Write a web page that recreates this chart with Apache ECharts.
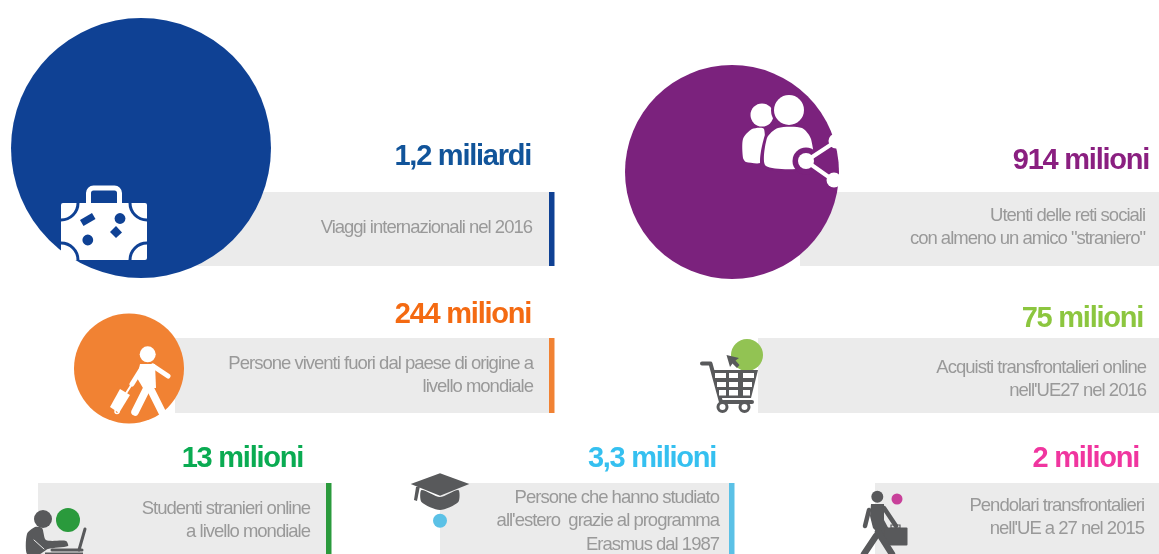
<!DOCTYPE html>
<html><head><meta charset="utf-8">
<style>html,body{margin:0;padding:0;background:#fff}#c{width:1159px;height:554px}</style>
<script src="https://cdn.jsdelivr.net/npm/echarts@6/dist/echarts.min.js"></script>
</head><body><div id="c"></div>
<script>
// --- content ---
const headlines = ['1,2 miliardi','914 milioni','244 milioni','75 milioni','13 milioni','3,3 milioni','2 milioni'];
const descriptions = [
  ['Viaggi internazionali nel 2016'],
  ['Utenti delle reti sociali','con almeno un amico "straniero"'],
  ['Persone viventi fuori dal paese di origine a','livello mondiale'],
  ['Acquisti transfrontalieri online',"nell'UE27 nel 2016"],
  ['Studenti stranieri online','a livello mondiale'],
  ['Persone che hanno studiato',"all'estero  grazie al programma",'Erasmus dal 1987'],
  ['Pendolari transfrontalieri',"nell'UE a 27 nel 2015"]
];
const circleColors = ['#0f4194','#7b227d','#f18233','#92c353','#2a9a3c','#5bc1e6','#c8409a'];
const headlineColors = ['#11549a','#8a1f80','#f46a12','#8cc63f','#0aab52','#35c0f0','#f0359f'];
const accentColors = ['#0f4194',null,'#f18233',null,'#2a9a3c','#5bc1e6',null];
// --- layout (pixel scale of the hidden axes) ---
const circleX = [141,732,129,747,68,440,897];
const circleY = [148,172,368.5,355,520,520.7,499];
const circleD = [260,214,110,32,24,14,11];
const panelL = [190,800,175,758,38,440,875];
const panelR = [549,1159,549,1159,326,729,1159];
const panelT = [192,192,338,338,483,483,483];
const panelB = [266,266,413,413,554,554,554];
const headRight = [531,1149,531,1143,303,716,1139];
const headBase = [167,171,325,329,469,469,469];
const descRight = [532,1145,533,1146,310,719,1144];
const descFirst = [234,222,370,374,515,504,512];
const GREY = '#58595b';
const idx = headlines.map((_, i) => i);

// the reference sets its type tight: glyphs at full width, negative tracking
const fontDesc = Object.getOwnPropertyDescriptor(CanvasRenderingContext2D.prototype, 'font');
Object.defineProperty(CanvasRenderingContext2D.prototype, 'font', {
  configurable:true, get(){ return fontDesc.get.call(this); },
  set(v){
    fontDesc.set.call(this, v);
    const m = /([\d.]+)px/.exec(String(v));
    const s = m ? parseFloat(m[1]) : 0;
    this.letterSpacing = s === 29 ? '-1.25px' : (s === 18.5 ? '-1px' : '0px');
  }
});

function rectItem(params, api) {
  const a = api.coord([api.value(0), api.value(2)]);
  const b = api.coord([api.value(1), api.value(3)]);
  return {type:'rect', shape:{x:a[0], y:a[1], width:b[0]-a[0], height:b[1]-a[1]}, style:{fill:api.value(4)}};
}
const panelData = idx.map(i => [panelL[i], panelR[i], panelT[i], panelB[i], '#ebebeb']);
const accentData = idx.filter(i => accentColors[i]).map(i => [panelR[i], panelR[i]+5.5, panelT[i], panelB[i], accentColors[i]]);

const FONT = '"Liberation Sans", Arial, sans-serif';
const textData = [];
idx.forEach(i => {
  textData.push([headRight[i], headBase[i]-0.3465*29, headlines[i], headlineColors[i], 29, 'bold']);
  descriptions[i].forEach((l, k) => textData.push([descRight[i], descFirst[i]-0.3465*18.5 + k*23.6, l, '#999999', 18.5, 'normal']));
});
function textItem(params, api) {
  const d = textData[params.dataIndex];
  const c = api.coord([d[0], d[1]]);
  return {type:'text', x:c[0], y:c[1], style:{text:d[2], fill:d[3], align:'right', verticalAlign:'middle',
    font:`${d[5]} ${d[4]}px ${FONT}`}};
}

// --- icon primitives ---
const Z = 10;
const poly = (pts, fill, z=Z) => ({type:'polygon', z, silent:true, shape:{points:pts}, style:{fill}});
const smooth = (pts, fill, z=Z) => ({type:'polygon', z, silent:true, shape:{points:pts, smooth:0.25}, style:{fill}});
const line = (pts, stroke, w, z=Z) => ({type:'polyline', z, silent:true, shape:{points:pts}, style:{stroke, lineWidth:w, fill:'none', lineCap:'round', lineJoin:'round'}});
const circ = (cx, cy, r, fill, z=Z) => ({type:'circle', z, silent:true, shape:{cx, cy, r}, style:{fill}});
const ring = (cx, cy, r, stroke, w, z=Z) => ({type:'circle', z, silent:true, shape:{cx, cy, r}, style:{fill:'none', stroke, lineWidth:w}});
const box = (x, y, width, height, fill, r=0, z=Z) => ({type:'rect', z, silent:true, shape:{x, y, width, height, r}, style:{fill}});
const arc = (cx, cy, r, a0, a1, stroke, w, z=Z) => ({type:'arc', z, silent:true, shape:{cx, cy, r, startAngle:a0*Math.PI/180, endAngle:a1*Math.PI/180, clockwise:true}, style:{stroke, lineWidth:w, fill:'none'}});

const BL = circleColors[0], PU = circleColors[1], W = '#ffffff';
const icons = [
  // suitcase
  {type:'rect', z:Z, silent:true, shape:{x:88.5, y:188, width:31, height:18, r:[5,5,0,0]}, style:{fill:'none', stroke:W, lineWidth:5}},
  box(61,203,86,57,W,2),
  arc(61,203,17,0,90,BL,3,11), arc(147,203,17,90,180,BL,3,11),
  arc(61,260,17,270,360,BL,3,11), arc(147,260,17,180,270,BL,3,11),
  poly([[80,220],[92,213],[95.5,219],[83.5,226]],BL,11),
  circ(120,218.5,5.4,BL,11), circ(87.8,240,5.4,BL,11),
  poly([[116,226],[122,232.5],[116,238],[110,232]],BL,11),
  // people + share
  circ(762,115,11.5,W), smooth([[743,139],[752,129],[764,129],[762,162],[746,162],[743,158]],W),
  circ(789,110,18,PU,11), circ(789,110,15,W,12),
  smooth([[762,168],[765,135],[777,127],[803,127],[812,138],[812,168]],PU,11),
  smooth([[766,166],[767,138],[778,128],[802,128],[811,139],[812,166]],W,12),
  circ(806,161,13.5,PU,13), circ(806,161,8,W,14),
  line([[806,161],[835,142]],W,4,14), line([[806,161],[833,180]],W,4,14),
  circ(836,141,7.5,W,14), circ(834,180,7.5,W,14),
  // walker with trolley
  circ(147.7,354.3,8,W),
  poly([[140,364],[155,364],[156,388],[143,388],[137,378]],W),
  line([[153,366],[168,376]],W,5), line([[142,368],[132,384]],W,5),
  line([[147,388],[135,412]],W,7.5), line([[150,388],[163,414]],W,7.5),
  line([[132,384],[123,398]],W,2),
  poly([[120,389],[130,395],[119,413],[110,407]],W),
  ring(117,411.5,2,W,1.5),
  // cart
  line([[702,363.5],[710.5,363.5],[721,402],[752,402]],GREY,4,10),
  poly([[713,370],[758,370],[751,398],[720,398]],GREY),
  box(715,373,11,5,W,0,11), box(729,373,9,5,W,0,11), box(743,373,11,5,W,0,11),
  box(717,382,9,5,W,0,11), box(729,382,9,5,W,0,11), box(743,382,9,5,W,0,11),
  box(719,390,7,5.5,W,0,11), box(729,390,9,5.5,W,0,11), box(743,390,7,5.5,W,0,11),
  ring(722.5,407,4.5,GREY,3), ring(744.5,407,4.5,GREY,3),
  poly([[726.5,355],[730,367],[732.5,363.5],[737,368],[739.5,365],[735.5,360.5],[739,358]],GREY,12),
  // student
  circ(43,519,9,GREY),
  smooth([[27,554],[27,534],[35,527],[42,528],[46,540],[66,541],[68,546],[48,549],[40,554]],GREY),
  line([[34,540],[44,549]],'#ebebeb',1,11),
  line([[85,529],[79,550]],GREY,3),
  line([[52,550],[82,550]],GREY,3),
  box(45,552.5,38,2,GREY),
  // graduation cap
  poly([[410.7,484],[440,473.3],[469.3,484],[440,495.7]],GREY),
  smooth([[421.5,490],[421.5,502],[440,510],[458.3,502],[458.3,490],[440,497]],GREY),
  poly([[416,487],[420,486],[417,501],[414,500]],GREY),
  // commuter
  circ(877.3,496.7,6,GREY),
  poly([[871,504],[884,504],[884,520],[892,535],[885,540],[873,528],[870,516]],GREY),
  line([[869,510],[865,526]],GREY,4.5), line([[884,508],[896,526]],GREY,4.5),
  box(884.5,527.5,23,18,GREY,1),
  {type:'rect', z:Z, silent:true, shape:{x:891,y:525,width:9,height:3}, style:{fill:'none',stroke:GREY,lineWidth:1.2}},
  line([[876,536],[864,554]],GREY,6.5), line([[878,532],[892,554]],GREY,6.5)
];

const chart = echarts.init(document.getElementById('c'), null, {renderer:'canvas'});
chart.setOption({
  animation:false,
  backgroundColor:'#ffffff',
  grid:{left:0,right:0,top:0,bottom:0},
  xAxis:{type:'value',min:0,max:1159,show:false},
  yAxis:{type:'value',min:0,max:554,inverse:true,show:false},
  tooltip:{show:false},
  series:[
    {type:'custom',silent:true,z:1,clip:false,renderItem:rectItem,data:panelData},
    {type:'custom',silent:true,z:1,clip:false,renderItem:rectItem,data:accentData},
    {type:'scatter',silent:true,z:2,clip:false,symbol:'circle',
     data:idx.map(i => ({value:[circleX[i],circleY[i]],symbolSize:circleD[i],itemStyle:{color:circleColors[i],opacity:1}}))},
    {type:'custom',silent:true,z:3,clip:false,renderItem:textItem,data:textData.map(d => [d[0],d[1]])}
  ],
  graphic:{elements:icons}
});
</script></body></html>
